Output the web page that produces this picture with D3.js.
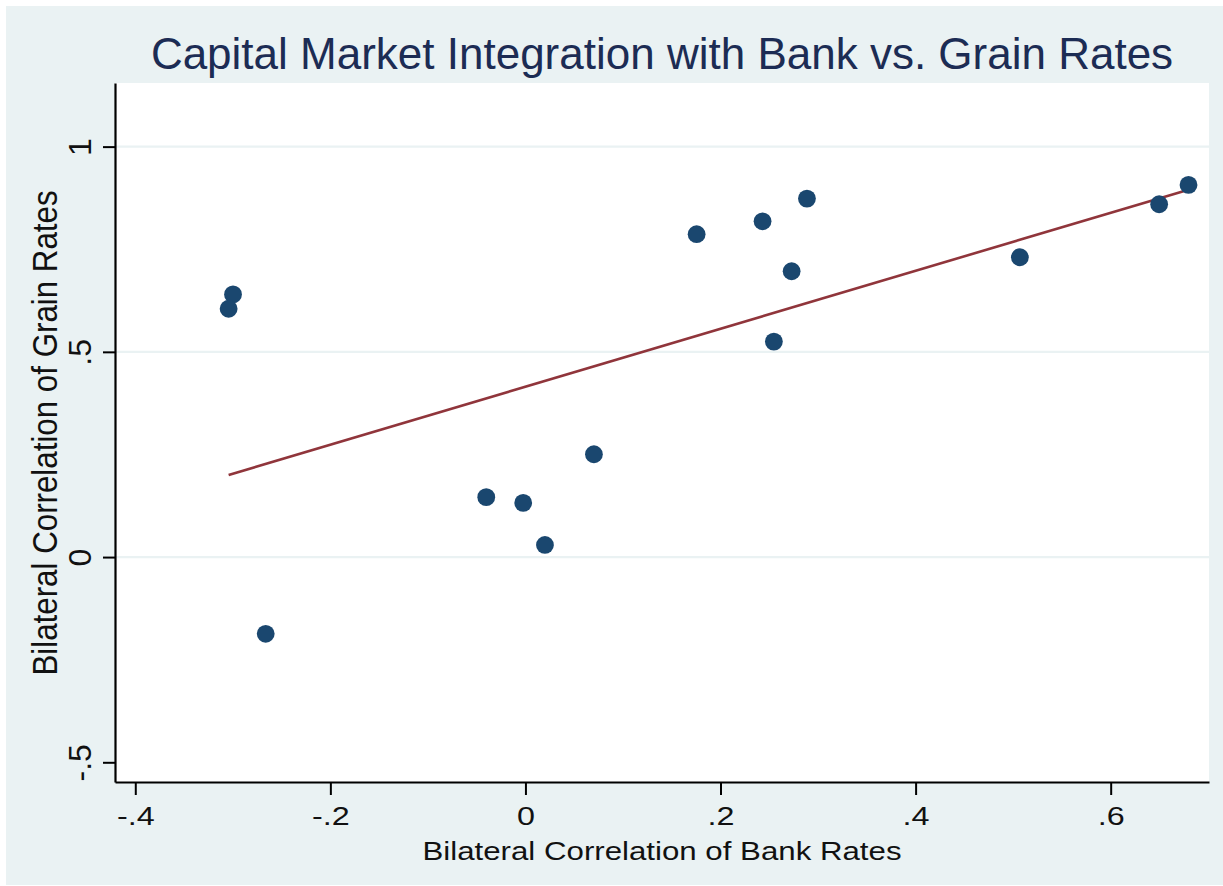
<!DOCTYPE html>
<html>
<head>
<meta charset="utf-8">
<script src="https://cdn.jsdelivr.net/npm/d3@7"></script>
<style>
  html, body { margin: 0; padding: 0; background: #ffffff; }
  svg { display: block; }
  text { font-family: "Liberation Sans", Arial, sans-serif; }
</style>
</head>
<body>
<svg id="chart"></svg>
<script>
// data
var bankCorr  = [-0.2998, -0.3043, -0.2663, -0.0402, -0.0023, 0.0200, 0.0702, 0.1755, 0.2431, 0.2886, 0.2729, 0.2547, 0.5069, 0.6497, 0.6798];
var grainCorr = [ 0.640,   0.605,  -0.187,   0.146,   0.132,  0.0295, 0.2505, 0.7866, 0.818,  0.8733, 0.6964, 0.525,  0.7305, 0.8596, 0.9067];
var xTicks = [-0.4, -0.2, 0, 0.2, 0.4, 0.6];
var xTickLabels = ["-.4", "-.2", "0", ".2", ".4", ".6"];
var yTicks = [-0.5, 0, 0.5, 1];
var yTickLabels = ["-.5", "0", ".5", "1"];
var yGrid = [0, 0.5, 1];
var title = "Capital Market Integration with Bank vs. Grain Rates";
var xTitle = "Bilateral Correlation of Bank Rates";
var yTitle = "Bilateral Correlation of Grain Rates";

var W = 1223, H = 886;
var plot = {left: 115, right: 1209, top: 83, bottom: 782};

var svg = d3.select("#chart").attr("width", W).attr("height", H);

// outer graph region
svg.append("rect")
  .attr("x", 6).attr("y", 6)
  .attr("width", W - 6).attr("height", H - 7)
  .attr("fill", "#eaf2f3");

svg.append("rect")
  .attr("x", plot.left).attr("y", plot.top)
  .attr("width", plot.right - plot.left).attr("height", plot.bottom - plot.top)
  .attr("fill", "#ffffff");

var xScale = d3.scaleLinear().domain([-0.4208, 0.7008]).range([plot.left, plot.right]);
var yScale = d3.scaleLinear().domain([-0.548, 1.155]).range([plot.bottom, plot.top]);

// gridlines
svg.append("g").selectAll("line")
  .data(yGrid)
  .enter().append("line")
  .attr("x1", plot.left).attr("x2", plot.right)
  .attr("y1", d => yScale(d)).attr("y2", d => yScale(d))
  .attr("stroke", "#eaf2f3")
  .attr("stroke-width", 2.2);

// linear fit over the range of x
var pts = bankCorr.map((x, i) => ({x: x, y: grainCorr[i]}));
var mx = d3.mean(pts, d => d.x), my = d3.mean(pts, d => d.y);
var sxy = d3.sum(pts, d => (d.x - mx) * (d.y - my));
var sxx = d3.sum(pts, d => (d.x - mx) * (d.x - mx));
var slope = sxy / sxx, icpt = my - slope * mx;
var xr = d3.extent(bankCorr);

svg.append("line")
  .attr("x1", xScale(xr[0])).attr("y1", yScale(icpt + slope * xr[0]))
  .attr("x2", xScale(xr[1])).attr("y2", yScale(icpt + slope * xr[1]))
  .attr("stroke", "#90353b")
  .attr("stroke-width", 2.6);

// points
svg.append("g").selectAll("circle")
  .data(pts)
  .enter().append("circle")
  .attr("cx", d => xScale(d.x))
  .attr("cy", d => yScale(d.y))
  .attr("r", 8.9)
  .attr("fill", "#1a476f");

// x axis
var xAxis = svg.append("g")
  .attr("transform", "translate(0," + plot.bottom + ")")
  .call(d3.axisBottom(xScale)
    .tickValues(xTicks)
    .tickFormat((d, i) => xTickLabels[i])
    .tickSize(13)
    .tickSizeOuter(0));
xAxis.select(".domain").attr("stroke", "#000").attr("stroke-width", 2.2);
xAxis.selectAll(".tick line").attr("stroke", "#000").attr("stroke-width", 2);
xAxis.selectAll(".tick text")
  .attr("y", 43).attr("dy", null)
  .attr("font-size", 26.5)
  .attr("fill", "#111")
  .attr("transform", "scale(1.22,1)");

// y axis
var yAxis = svg.append("g")
  .attr("transform", "translate(" + plot.left + ",0)")
  .call(d3.axisLeft(yScale)
    .tickValues(yTicks)
    .tickFormat((d, i) => yTickLabels[i])
    .tickSize(12)
    .tickSizeOuter(0));
yAxis.select(".domain").attr("stroke", "#000").attr("stroke-width", 2.2);
yAxis.selectAll(".tick line").attr("stroke", "#000").attr("stroke-width", 2);
yAxis.selectAll(".tick text")
  .attr("x", null).attr("dy", null)
  .attr("text-anchor", "middle")
  .attr("font-size", 32)
  .attr("fill", "#111")
  .attr("transform", "translate(-24,0) rotate(-90)");

// titles
svg.append("text")
  .attr("x", (plot.left + plot.right) / 2)
  .attr("y", 68.5)
  .attr("text-anchor", "middle")
  .attr("font-size", 44)
  .attr("fill", "#1c2c54")
  .text(title);

svg.append("g")
  .attr("transform", "translate(" + (plot.left + plot.right) / 2 + ",860)")
  .append("text")
  .attr("text-anchor", "middle")
  .attr("font-size", 25.6)
  .attr("fill", "#111")
  .attr("transform", "scale(1.22,1)")
  .text(xTitle);

svg.append("text")
  .attr("transform", "translate(57,433) rotate(-90) scale(1,1.12)")
  .attr("text-anchor", "middle")
  .attr("font-size", 31.3)
  .attr("fill", "#111")
  .text(yTitle);
</script>
</body>
</html>
